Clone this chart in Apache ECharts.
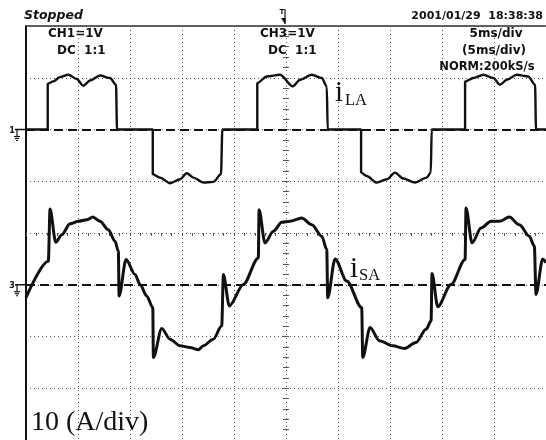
<!DOCTYPE html>
<html>
<head>
<meta charset="utf-8">
<script src="https://cdn.jsdelivr.net/npm/echarts@6/dist/echarts.min.js"></script>
<style>
  html, body { margin: 0; padding: 0; background: #fff; }
  #chart { width: 546px; height: 440px; }
</style>
</head>
<body>
<div id="chart"></div>
<script>
// 5 ms/div, trigger at screen centre
const timeRange = [-25, 25];
const divRange = [-4, 4];
// 10 A/div, CH1 ground 2 div above centre, CH3 ground 1 div below
const iLARange = [-60, 20];
const iSARange = [-30, 50];

// [time ms, current A]
const iLA = [
  [-25, 0], [-22.91, 0], [-22.91, 8.85], [-22.37, 9.29], [-21.73, 10.13], [-20.93, 10.58],
  [-20.12, 9.75], [-19.49, 8.46], [-18.84, 9.48], [-17.88, 10.44], [-16.92, 9.94], [-16.34, 8.65],
  [-16.25, 0], [-12.81, 0], [-12.81, -8.65], [-12.11, -9.29], [-11.15, -10.38], [-10.19, -9.62],
  [-9.54, -8.46], [-8.91, -9.29], [-7.95, -10.25], [-6.99, -10.13], [-6.25, -8.65], [-6.12, 0],
  [-2.76, 0], [-2.76, 8.98], [-1.85, 10.25], [-0.57, 10.58], [0.65, 8.33], [1.35, 9.62],
  [2.48, 10.58], [3.44, 9.94], [3.92, 8.33], [4.01, 0], [7.22, 0], [7.22, -8.33],
  [7.76, -8.98], [8.73, -10.25], [9.69, -9.62], [10.48, -8.33], [11.28, -9.48], [12.41, -10.25],
  [13.53, -9.29], [13.92, -8.33], [14.01, 0], [17.22, 0], [17.22, 9.29], [18.01, 9.94],
  [18.98, 10.58], [19.94, 9.94], [20.58, 8.65], [21.23, 9.62], [22.19, 10.58], [23.30, 10.25],
  [23.95, 8.65], [24.04, 0], [25, 0]
];

const iSA = [
  [-25, -2.5], [-22.85, 4.56], [-22.69, 14.62], [-22.14, 8.21], [-21.56, 9.67], [-20.77, 11.79],
  [-19.97, 12.25], [-19.16, 12.56], [-18.58, 13.08], [-17.88, 12.25], [-17.08, 10.63], [-16.44, 8.40],
  [-16.12, 6.48], [-16.05, -2.17], [-15.38, 4.87], [-14.52, 1.98], [-14.03, 0.06], [-13.39, -2.17],
  [-12.81, -4.42], [-12.75, -14.04], [-11.95, -8.46], [-11.15, -10.52], [-10.19, -11.79], [-9.23, -12.12],
  [-8.43, -12.56], [-7.95, -11.79], [-6.99, -10.52], [-6.18, -7.94], [-6.02, 1.98], [-5.45, -4.10],
  [-4.10, 0.06], [-2.66, 5.19], [-2.59, 14.48], [-2.02, 8.08], [-1.22, 10.33], [-0.41, 12.06],
  [0.39, 12.25], [1.51, 12.88], [2.48, 11.60], [3.44, 9.37], [3.92, 6.79], [4.01, -2.5],
  [4.72, 5.0], [5.84, 0.71], [7.28, -4.42], [7.38, -14.04], [8.08, -8.27], [8.98, -10.83],
  [10.26, -11.79], [11.38, -12.31], [12.50, -11.15], [13.47, -8.60], [13.95, -6.98], [14.04, 2.17],
  [14.59, -4.23], [15.87, 0.06], [17.22, 4.87], [17.31, 14.81], [17.89, 8.08], [18.75, 10.96],
  [19.72, 12.25], [20.51, 12.25], [21.48, 13.08], [22.44, 11.60], [23.40, 9.37], [23.88, 7.44],
  [24.04, -1.87], [24.68, 5.0], [25, 4.23]
];

const ch1Text = ['CH1=1V', 'DC  1:1'];
const ch3Text = ['CH3=1V', 'DC  1:1'];
const timebaseText = ['5ms/div', '(5ms/div)', 'NORM:200kS/s'];
const stamp = '2001/01/29  18:38:38';

const ink = '#111';
const dots = '#555';
const hdrFont = 'DejaVu Sans';

const chart = echarts.init(document.getElementById('chart'));

const centreTicks = (inside) => ({
  axisLine: { onZero: true, onZeroAxisIndex: 0, lineStyle: { opacity: 0 } },
  axisTick: { show: true, inside: inside, length: 3, lineStyle: { color: dots } },
  minorTick: { show: true, splitNumber: 5, length: 3, lineStyle: { color: dots } },
  axisLabel: { show: false },
  splitLine: { show: false }
});

const groundLine = {
  silent: true, symbol: 'none', label: { show: false },
  lineStyle: { color: ink, width: 2, type: [9, 5] },
  data: [{ yAxis: 0 }]
};

chart.setOption({
  animation: false,
  grid: { left: 26, top: 26, width: 520, height: 416 },
  xAxis: [
    {
      type: 'value', min: timeRange[0], max: timeRange[1], interval: 5, position: 'top',
      axisLine: { onZero: false, lineStyle: { color: '#333', width: 1.5 } },
      axisTick: { show: false }, axisLabel: { show: false },
      splitLine: { show: true, lineStyle: { color: dots, width: 1, type: [1, 3] } }
    },
    Object.assign({ type: 'value', min: timeRange[0], max: timeRange[1], interval: 5 }, centreTicks(false)),
    Object.assign({ type: 'value', min: timeRange[0], max: timeRange[1], interval: 5 }, centreTicks(true))
  ],
  yAxis: [
    {
      type: 'value', min: divRange[0], max: divRange[1], interval: 1, position: 'left',
      axisLine: { onZero: false, lineStyle: { color: ink, width: 2 } },
      axisTick: { show: false }, axisLabel: { show: false },
      splitLine: { show: true, lineStyle: { color: dots, width: 1, type: [1, 3] } }
    },
    { type: 'value', show: false, min: iLARange[0], max: iLARange[1], interval: 10 },
    { type: 'value', show: false, min: iSARange[0], max: iSARange[1], interval: 10 },
    Object.assign({ type: 'value', min: divRange[0], max: divRange[1], interval: 1 }, centreTicks(false)),
    Object.assign({ type: 'value', min: divRange[0], max: divRange[1], interval: 1 }, centreTicks(true))
  ],
  series: [
    {
      name: 'iLA', type: 'line', xAxisIndex: 0, yAxisIndex: 1, data: iLA,
      symbol: 'none', smooth: 0.3, smoothMonotone: 'x',
      lineStyle: { color: ink, width: 2.4 }, z: 5, markLine: groundLine
    },
    {
      name: 'iSA', type: 'line', xAxisIndex: 0, yAxisIndex: 2, data: iSA,
      symbol: 'none', smooth: 0.3, smoothMonotone: 'x',
      lineStyle: { color: ink, width: 3 }, z: 5, markLine: groundLine
    }
  ]
});

// ground markers follow each channel's zero level
const groundMark = (label, y) => ({
  type: 'group', children: [
    { type: 'text', style: { text: label, x: 12, y: y + 1, font: 'bold 8px DejaVu Sans', fill: ink, textAlign: 'center', textVerticalAlign: 'middle' } },
    { type: 'line', shape: { x1: 15, y1: y, x2: 26, y2: y }, style: { stroke: ink, lineWidth: 1.5 } },
    { type: 'line', shape: { x1: 17, y1: y, x2: 17, y2: y + 7 }, style: { stroke: ink, lineWidth: 1.2 } },
    { type: 'line', shape: { x1: 14, y1: y + 7, x2: 20, y2: y + 7 }, style: { stroke: ink, lineWidth: 1.2 } },
    { type: 'line', shape: { x1: 15, y1: y + 9, x2: 19, y2: y + 9 }, style: { stroke: ink, lineWidth: 1.2 } },
    { type: 'line', shape: { x1: 16, y1: y + 11, x2: 18, y2: y + 11 }, style: { stroke: ink, lineWidth: 1.2 } }
  ]
});

const g1 = chart.convertToPixel({ yAxisIndex: 1 }, 0);
const g3 = chart.convertToPixel({ yAxisIndex: 2 }, 0);
const tx = chart.convertToPixel({ xAxisIndex: 0 }, 0);

const hdr = (text, x, y, align, size, style) => ({
  type: 'text',
  style: {
    text: text, x: x, y: y, textAlign: align, textVerticalAlign: 'middle',
    font: (style || '') + ' bold ' + (size || 12) + 'px ' + hdrFont, fill: ink
  }
});

// y is the baseline; zrender has no alphabetic alignment, so go through the middle
const serif = (text, x, y, size) => ({
  type: 'text',
  style: { text: text, x: x, y: y - 0.34 * size, textAlign: 'left', textVerticalAlign: 'middle', font: size + 'px Liberation Serif', fill: ink }
});

chart.setOption({
  graphic: [
    hdr('Stopped', 24, 16, 'left', 12.5, 'italic'),
    hdr(stamp, 543, 16, 'right', 11),
    hdr(ch1Text[0], 48, 34, 'left'),
    hdr(ch1Text[1], 57, 51, 'left'),
    hdr(ch3Text[0], 260, 34, 'left'),
    hdr(ch3Text[1], 268, 51, 'left'),
    hdr(timebaseText[0], 496, 34, 'center'),
    hdr(timebaseText[1], 494, 51, 'center'),
    hdr(timebaseText[2], 487, 67, 'center', 11.5),
    // trigger position marker
    { type: 'text', style: { text: 'T', x: tx - 4, y: 12, textAlign: 'center', textVerticalAlign: 'middle', font: 'bold 7px DejaVu Sans', fill: ink } },
    { type: 'line', shape: { x1: tx - 1, y1: 9, x2: tx - 1, y2: 24 }, style: { stroke: ink, lineWidth: 1.2 } },
    { type: 'polygon', shape: { points: [[tx - 5, 18], [tx, 18], [tx - 1, 24]] }, style: { fill: ink } },
    groundMark('1', g1),
    groundMark('3', g3),
    serif('i', 335, 103, 29),
    serif('LA', 345, 106, 16.5),
    serif('i', 350, 279, 29),
    serif('SA', 359, 281, 16.5),
    serif('10 (A/div)', 31, 432, 28)
  ]
});
</script>
</body>
</html>
